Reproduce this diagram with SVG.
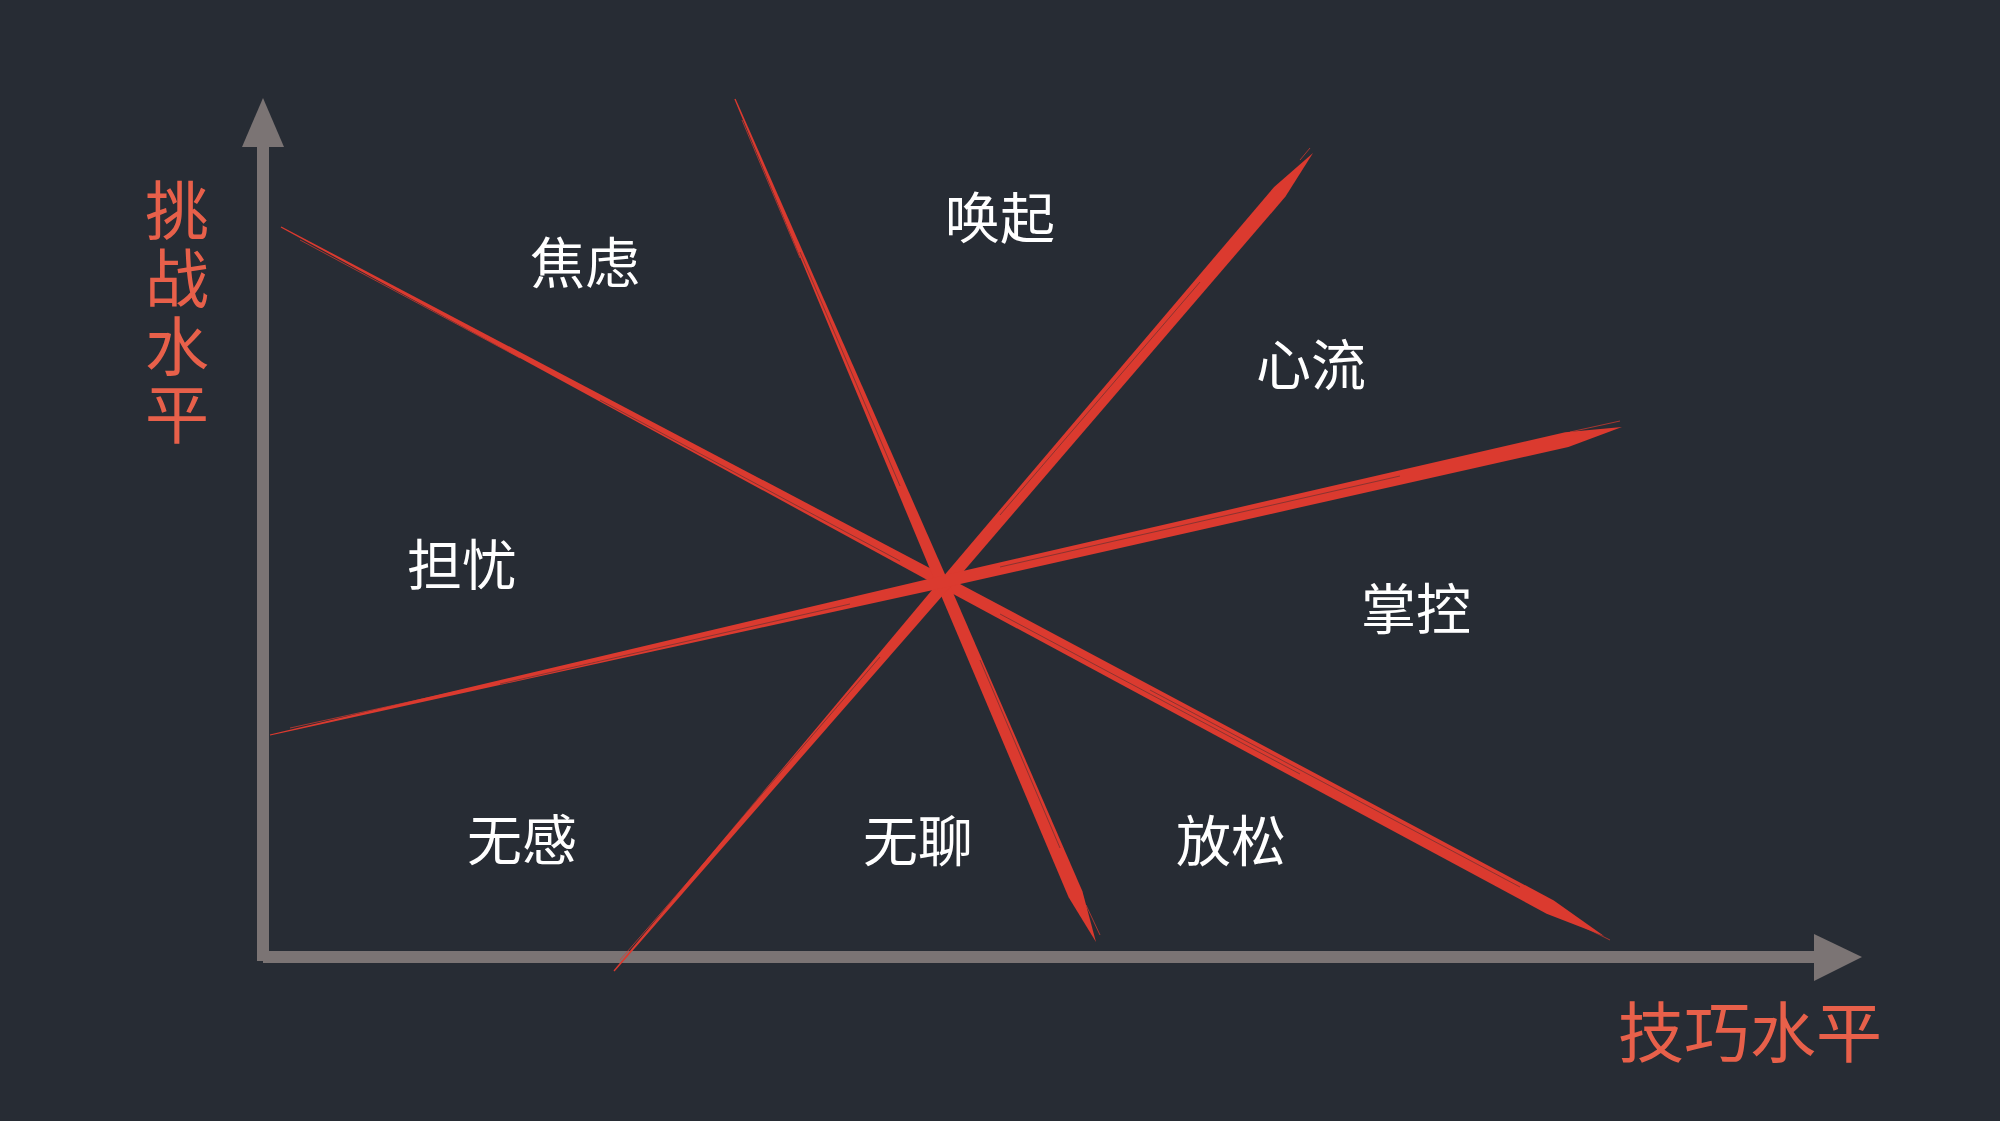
<svg xmlns="http://www.w3.org/2000/svg" width="2000" height="1121" viewBox="0 0 2000 1121">
  <defs>
    <style>
      .axis { fill: #7B7474; }
      .brush { fill: #DB3A2F; }
      .streak { fill: none; stroke: #272C34; stroke-width: 1; stroke-opacity: 0.45; }
      .hair { fill: none; stroke: #DB3A2F; stroke-width: 1; stroke-opacity: 0.7; }
      .lbl { font-family: "Noto Sans CJK SC", "Noto Sans", sans-serif; font-size: 55px; fill: #FFFFFF; text-anchor: middle; }
      .axlbl { font-family: "Noto Sans CJK SC", "Noto Sans", sans-serif; font-size: 66px; fill: #E8604A; }
      .vlbl { font-family: "Noto Sans CJK SC", "Noto Sans", sans-serif; font-size: 64px; fill: #E8604A; writing-mode: vertical-rl; letter-spacing: 4px; }
    </style>
  </defs>
  <rect x="0" y="0" width="2000" height="1121" fill="#272C34"/>

  <g id="axes">
    <rect class="axis" x="257" y="146" width="12" height="815"/>
    <polygon class="axis" points="242,147 284,147 263,98"/>
    <rect class="axis" x="263" y="951" width="1552" height="12"/>
    <polygon class="axis" points="1814,934 1814,981 1862,957"/>
  </g>

  <g id="connectors">
    <g id="line-anxiety-relax">
      <path class="brush" d="M280.7,227.5 L939.3,586.5 L1546.6,913.7 L1604,936 L1553.8,900.5 L944.9,575.9 L281.3,226.5 Z"/>
      <path class="streak" d="M600,400 L900,561 M1000,614 L1300,774 M1150,690 L1520,887"/>
      <path class="hair" d="M300,240 L520,358 M1560,915 L1610,940"/>
    </g>
    <g id="line-arousal-boredom">
      <path class="brush" d="M734.4,99.2 L936.2,584.0 L1068.6,897.2 L1096,942 L1082.4,891.2 L947.2,579.2 L735.6,98.8 Z"/>
      <path class="streak" d="M800,252 L900,486 M980,660 L1060,848"/>
      <path class="hair" d="M742,120 L800,258 M1086,905 L1100,935"/>
    </g>
    <g id="line-flow-apathy">
      <path class="brush" d="M614.5,971.4 L952.5,584.2 L1285.5,196.6 L1313,153 L1274.1,187.0 L943.3,576.4 L613.5,970.6 Z"/>
      <path class="streak" d="M1000,515 L1200,282 M700,866 L880,657"/>
      <path class="hair" d="M620,960 L720,845 M1300,160 L1310,148"/>
    </g>
    <g id="line-worry-control">
      <path class="brush" d="M270.1,735.5 L948.0,586.7 L1568.4,446.9 L1622,427 L1565.2,432.3 L945.4,575.0 L269.9,734.5 Z"/>
      <path class="streak" d="M1000,567 L1400,476 M500,684 L850,604"/>
      <path class="hair" d="M290,728 L600,660 M1570,432 L1620,421"/>
    </g>
  </g>

  <g id="label-anxiety"><text class="lbl" x="585" y="283">焦虑</text></g>
  <g id="label-arousal"><text class="lbl" x="1000" y="238">唤起</text></g>
  <g id="label-flow"><text class="lbl" x="1311" y="385">心流</text></g>
  <g id="label-worry"><text class="lbl" x="462" y="585">担忧</text></g>
  <g id="label-control"><text class="lbl" x="1416" y="629">掌控</text></g>
  <g id="label-apathy"><text class="lbl" x="522" y="860">无感</text></g>
  <g id="label-boredom"><text class="lbl" x="918" y="861">无聊</text></g>
  <g id="label-relaxation"><text class="lbl" x="1231" y="861">放松</text></g>

  <g id="y-axis-label">
    <text class="vlbl" x="177" y="178">挑战水平</text>
  </g>
  <g id="x-axis-label">
    <text class="axlbl" x="1618" y="1057">技巧水平</text>
  </g>
</svg>
